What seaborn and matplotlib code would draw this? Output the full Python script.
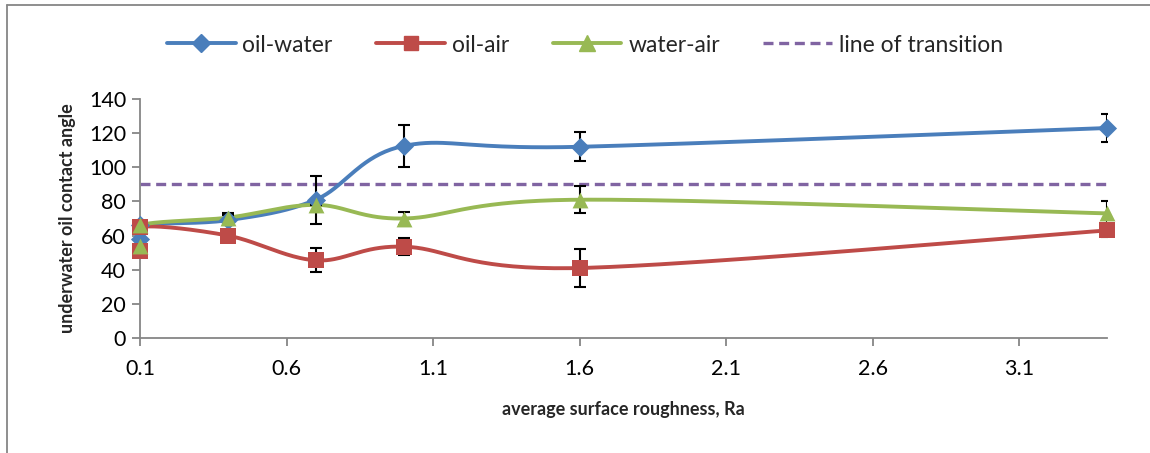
import numpy as np
import pandas as pd
import matplotlib
matplotlib.use("Agg")
import matplotlib.pyplot as plt
from matplotlib.lines import Line2D
import seaborn as sns

# ---- data ----
x_vals = [0.1, 0.1, 0.4, 0.7, 1.0, 1.6, 3.4]
oil_water = [58, 66, 69, 81, 112.5, 112, 123]
oil_water_err = [0, 0, 3, 14, 12.5, 8.5, 8]
oil_air = [51, 65, 60, 45.5, 53.5, 41, 63]
oil_air_err = [0, 0, 3, 7, 5, 11, 4]
water_air = [54, 66, 70.5, 78, 70, 81, 73]
water_air_err = [0, 0, 3, 0, 4, 8, 7]
transition = [90, 90]
transition_x = [0.1, 3.4]
series_names = ["oil-water", "oil-air", "water-air"]
x_ticks = [0.1, 0.6, 1.1, 1.6, 2.1, 2.6, 3.1]
y_ticks = [0, 20, 40, 60, 80, 100, 120, 140]

colors = {"oil-water": "#4A7EBB", "oil-air": "#BE4B48", "water-air": "#98B954"}
markers = {"oil-water": "D", "oil-air": "s", "water-air": "^"}
msizes = {"oil-water": 95, "oil-air": 120, "water-air": 130}
purple = "#8064A2"

sns.set_theme(style="white")
plt.rcParams["font.family"] = ["Lato", "DejaVu Sans"]

fig = plt.figure(figsize=(11.5, 4.53), dpi=100)
ax = fig.add_axes([140 / 1150, 1 - 338 / 453, (1107 - 140) / 1150, (338 - 99) / 453])


def smooth(xs, ys, n=40):
    """Excel-style smoothed path (Catmull-Rom / Bezier) through the points."""
    P = np.column_stack([xs, ys]).astype(float)
    out = []
    m = len(P)
    for i in range(m - 1):
        p0 = P[i - 1] if i > 0 else P[i]
        p1, p2 = P[i], P[i + 1]
        p3 = P[i + 2] if i + 2 < m else P[i + 1]
        c1 = p1 + (p2 - p0) / 6
        c2 = p2 - (p3 - p1) / 6
        t = np.linspace(0, 1, n)[:, None]
        seg = ((1 - t) ** 3) * p1 + 3 * ((1 - t) ** 2) * t * c1 + 3 * (1 - t) * t ** 2 * c2 + t ** 3 * p2
        out.append(seg)
    return np.vstack(out)


data = {
    "oil-water": (oil_water, oil_water_err),
    "oil-air": (oil_air, oil_air_err),
    "water-air": (water_air, water_air_err),
}

dash = (0, (3, 1.7))
# transition line
ax.plot(transition_x, transition, color=purple, lw=2.4, ls=dash, zorder=2)

frames = []
for name in series_names:
    ys, errs = data[name]
    path = smooth(x_vals, ys)
    ax.plot(path[:, 0], path[:, 1], color=colors[name], lw=2.8, zorder=3,
            solid_capstyle="round")
    ax.errorbar(x_vals, ys, yerr=errs, fmt="none", ecolor="black", elinewidth=1.5,
                capsize=4.5, capthick=1.5, zorder=4)
    frames.append(pd.DataFrame({"x": x_vals, "y": ys, "series": name}))

df = pd.concat(frames, ignore_index=True)
for name in series_names:
    sub = df[df["series"] == name]
    sns.scatterplot(data=sub, x="x", y="y", marker=markers[name], s=msizes[name],
                    color=colors[name], edgecolor=colors[name], linewidth=0,
                    ax=ax, zorder=5, legend=False, clip_on=False)

ax.set_xlim(0.1, 3.4)
ax.set_ylim(0, 140)
ax.set_xticks(x_ticks)
ax.set_xticklabels([f"{v:.1f}" for v in x_ticks])
ax.set_yticks(y_ticks)
ax.set_yticklabels([str(v) for v in y_ticks])
for s in ["top", "right"]:
    ax.spines[s].set_visible(False)
for s in ["left", "bottom"]:
    ax.spines[s].set_color("#868686")
    ax.spines[s].set_linewidth(1.3)
ax.tick_params(axis="both", which="major", direction="out", length=6, width=1.3,
               color="#868686", labelsize=15.5, labelcolor="black", pad=4,
               left=True, bottom=True)
ax.tick_params(axis="x", pad=9)
ax.set_xlabel("average surface roughness, Ra", fontsize=13, fontweight="bold", labelpad=16)
ax.set_ylabel("underwater oil contact angle", fontsize=13, fontweight="bold", labelpad=9)
ax.grid(False)

handles = [
    Line2D([], [], color=colors["oil-water"], lw=2.8, marker="D", markersize=9),
    Line2D([], [], color=colors["oil-air"], lw=2.8, marker="s", markersize=10),
    Line2D([], [], color=colors["water-air"], lw=2.8, marker="^", markersize=11),
    Line2D([], [], color=purple, lw=2.4, ls=dash),
]
labels = ["oil-water", "oil-air", "water-air", "line of transition"]
fig.legend(handles, labels, loc="center", bbox_to_anchor=(585 / 1150, 1 - 45 / 453),
           ncol=4, frameon=False, fontsize=16.5, handlelength=3.0, columnspacing=1.9,
           handletextpad=0.3)

# chart frame (left and top edges visible)
fig.add_artist(Line2D([7 / 1150, 7 / 1150], [0, 1 - 5 / 453], transform=fig.transFigure,
                      color="#868686", lw=1.3))
fig.add_artist(Line2D([7 / 1150, 1], [1 - 5 / 453, 1 - 5 / 453], transform=fig.transFigure,
                      color="#868686", lw=1.3))

fig.savefig("out.png", dpi=100)
